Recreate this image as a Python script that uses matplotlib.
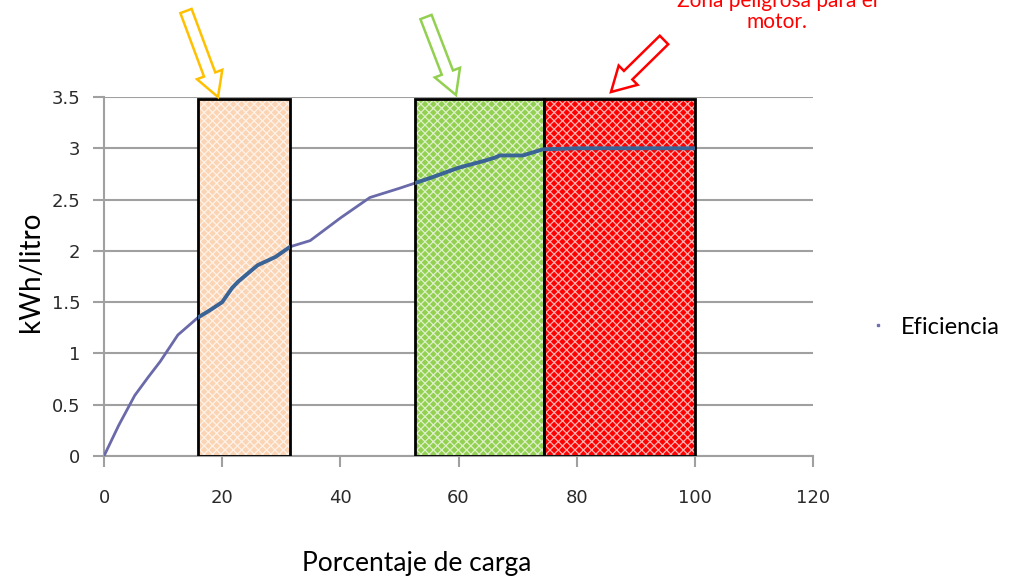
import matplotlib.pyplot as plt
from matplotlib.patches import Rectangle, FancyArrow
from matplotlib.lines import Line2D

# Eficiencia del grupo electrógeno vs porcentaje de carga
carga = [0, 2.5, 5.2, 7.5, 9.5, 12.5, 15.9, 17.9, 20, 21.7, 22.7, 26, 29, 31.5,
         34.9, 40, 45, 50, 52.6, 55.2, 60, 64.5, 66.2, 67, 70.9, 74.3, 80, 90, 100]
eficiencia = [0, 0.3, 0.59, 0.77, 0.92, 1.18, 1.35, 1.42, 1.5, 1.64, 1.7, 1.86, 1.94, 2.04,
              2.1, 2.32, 2.52, 2.61, 2.66, 2.71, 2.81, 2.88, 2.91, 2.93, 2.93, 2.99, 3.0, 3.0, 3.0]

# zonas de operación: (inicio, fin, color)
zona_inicio = [15.9, 52.6, 74.4]
zona_fin = [31.5, 74.4, 100]
zona_color = ['#fbd4b4', '#92d050', '#ff0000']
zona_alto = 3.48

plt.rcParams['hatch.linewidth'] = 0.9

fig = plt.figure(figsize=(10.13, 5.81), dpi=100)
ax = fig.add_axes([104 / 1013, 125 / 581, 709 / 1013, 359 / 581])

ax.set_xlim(0, 120)
ax.set_ylim(0, 3.5)
ax.set_xticks(range(0, 121, 20))
ax.set_yticks([0, 0.5, 1, 1.5, 2, 2.5, 3, 3.5])
ax.set_yticklabels(['0', '0.5', '1', '1.5', '2', '2.5', '3', '3.5'])
ax.grid(axis='y', color='#a0a0a0', linewidth=1.5)
ax.set_axisbelow(True)
for s in ['top', 'right']:
    ax.spines[s].set_visible(False)
for s in ['left', 'bottom']:
    ax.spines[s].set_color('#a0a0a0')
    ax.spines[s].set_linewidth(1.5)
ax.tick_params(axis='both', direction='out', length=8, width=1.5, color='#a0a0a0',
               labelsize=13, labelcolor='#2a2a2a', pad=9)
ax.tick_params(axis='x', pad=16)

rects = []
for x0, x1, c in zip(zona_inicio, zona_fin, zona_color):
    fondo = Rectangle((x0, 0), x1 - x0, zona_alto, facecolor=c, edgecolor=(1, 1, 1, 0.7),
                      linewidth=0, hatch='xxxx', zorder=2)
    ax.add_patch(fondo)
    borde = Rectangle((x0, 0), x1 - x0, zona_alto, facecolor='none', edgecolor='black',
                      linewidth=2, zorder=4)
    ax.add_patch(borde)
    rects.append(fondo)

ax.plot(carga, eficiencia, color='#6a6aaa', linewidth=2, zorder=3)
for r in rects:
    seg, = ax.plot(carga, eficiencia, color='#3b6496', linewidth=2.8, zorder=5)
    seg.set_clip_path(r)

handle = Line2D([], [], color='#7070b0', marker='s', markersize=2, linestyle='none')
ax.legend([handle], ['Eficiencia'], loc='center left', frameon=False,
          bbox_to_anchor=(847 / 1013, 254 / 581), bbox_transform=fig.transFigure,
          prop={'family': 'Lato', 'size': 17}, borderpad=0.4,
          handlelength=0.8, handletextpad=0.6)

ax.set_xlabel('Porcentaje de carga', fontsize=19, family='Lato')
ax.xaxis.set_label_coords((417 - 104) / 709, -0.265)
ax.set_ylabel('kWh/litro', fontsize=20, family='Lato',
              bbox=dict(facecolor='white', edgecolor='none', pad=2))
ax.yaxis.set_label_coords(-0.084, 0.5125)

# flechas huecas señalando cada zona
def flecha(x0, y0, x1, y1, color):
    a = FancyArrow(x0, 581 - y0, x1 - x0, y0 - y1, width=12, head_width=27,
                   head_length=24, length_includes_head=True, fill=False,
                   edgecolor=color, linewidth=1.8, transform=None)
    fig.patches.append(a)

flecha(186, 11, 218, 97, '#ffc000')
flecha(426, 17, 456, 95, '#92d050')
flecha(664, 40, 611, 92, '#ff0000')

fig.text(777, 581 - 32, 'Zona peligrosa para el\nmotor.', transform=None,
         ha='center', va='bottom', color='#ff0000', fontsize=15, family='Lato',
         linespacing=1.05)

fig.savefig('out.png', dpi=100)
